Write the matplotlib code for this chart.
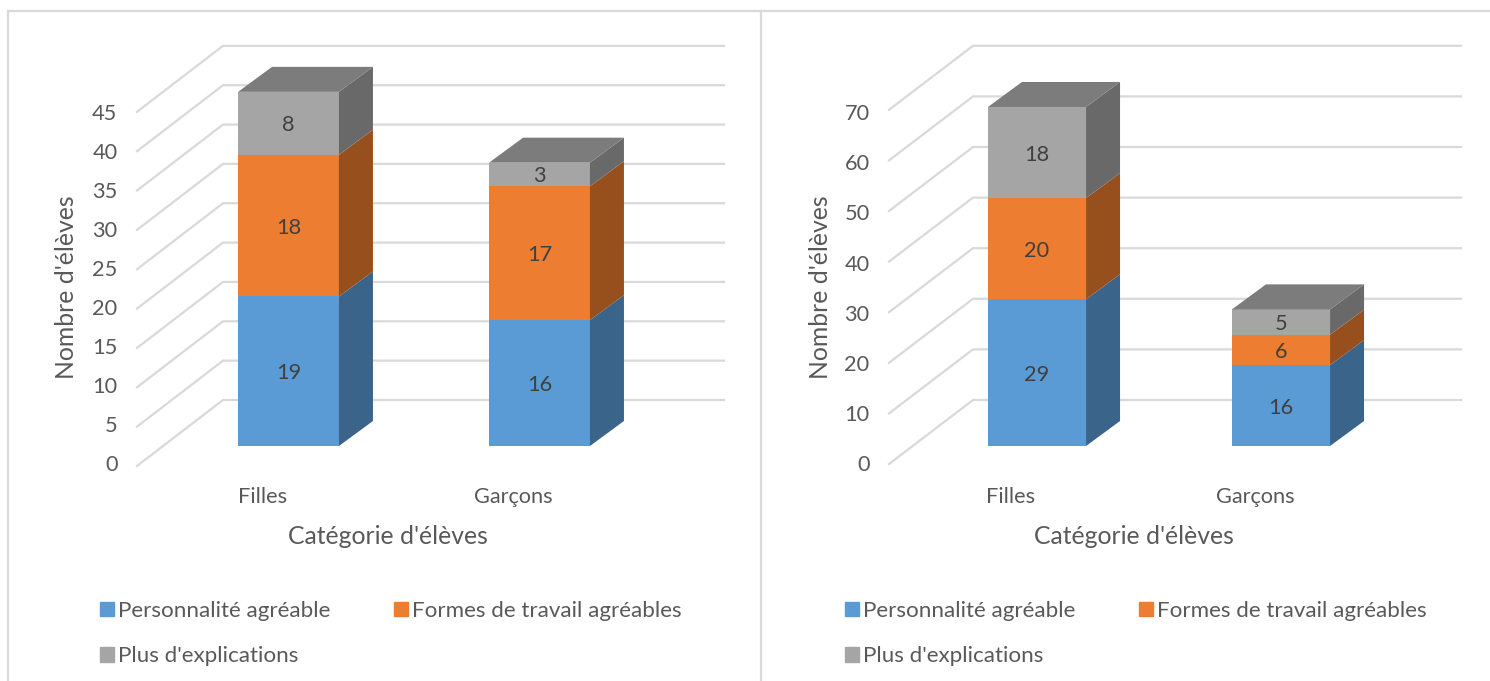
import matplotlib
matplotlib.use("Agg")
import matplotlib.pyplot as plt
from matplotlib.lines import Line2D
from matplotlib.patches import Patch
from matplotlib.transforms import ScaledTranslation

W = 1490
H = 681

categories = ["Filles", "Garçons"]
series_names = ["Personnalité agréable", "Formes de travail agréables", "Plus d'explications"]

left_personnalite = [19, 16]
left_formes = [18, 17]
left_explications = [8, 3]
left_ticks = [0, 5, 10, 15, 20, 25, 30, 35, 40, 45]

right_personnalite = [29, 16]
right_formes = [20, 6]
right_explications = [18, 5]
right_ticks = [0, 10, 20, 30, 40, 50, 60, 70]

front_colors = ["#5B9BD5", "#ED7D31", "#A5A5A5"]
side_colors = ["#3A6489", "#97501D", "#696969"]
top_color = "#7C7C7C"
grid_color = "#D9D9D9"
text_color = "#595959"
label_color = "#404040"

plt.rcParams["font.family"] = ["Lato", "DejaVu Sans"]

TICK_SIZE = 15.7
LEGEND_SIZE = 16.1
TITLE_SIZE = 17.8


def draw_chart(fig, box, first_center, step, px_per_unit, stacks, ticks, wall):
    # box is left, right, top, bottom in pixels, bar fronts stand on the bottom edge
    x0, x1, top, bottom = box
    ax = fig.add_axes([x0 / W, 1 - bottom / H, (x1 - x0) / W, (bottom - top) / H])
    ax.set_xlim((x0 - first_center) / step, (x1 - first_center) / step)
    ax.set_ylim(0, (bottom - top) / px_per_unit)
    ax.patch.set_visible(False)
    for s in ax.spines.values():
        s.set_visible(False)

    # side wall and back wall gridlines
    wall_dx, front_drop, back_rise = wall
    xmin, xmax = ax.get_xlim()
    for v in ticks:
        ax.plot([xmin, xmin + wall_dx / step, xmax],
                [v - front_drop / px_per_unit, v + back_rise / px_per_unit, v + back_rise / px_per_unit],
                color=grid_color, lw=1.6, clip_on=False, zorder=1, solid_joinstyle="miter")

    # stacked boxes, the depth is a fixed shift to the upper right
    bar_w = 0.402
    dx = 34 / step
    dy = 25 / px_per_unit
    for i in range(len(categories)):
        base = 0
        xr = i + bar_w / 2
        for k, values in enumerate(stacks):
            val = values[i]
            ax.bar(i, val, bar_w, bottom=base, color=front_colors[k], zorder=3)
            ax.fill([xr, xr + dx, xr + dx, xr],
                    [base, base + dy, base + val + dy, base + val],
                    color=side_colors[k], lw=0, zorder=3, clip_on=False)
            ax.text(i, base + val / 2, str(val), ha="center", va="center_baseline",
                    fontsize=TICK_SIZE, color=label_color, zorder=4)
            base += val
        xl = i - bar_w / 2
        ax.fill([xl, xr, xr + dx, xl + dx], [base, base, base + dy, base + dy],
                color=top_color, lw=0, zorder=3, clip_on=False)

    ax.set_xticks(range(len(categories)), categories)
    ax.set_yticks(ticks, [str(v) for v in ticks])
    ax.tick_params(length=0, colors=text_color, labelsize=TICK_SIZE)
    ax.tick_params(axis="y", pad=14)
    # tick labels follow the front edge of the wall, not the bar plane
    for lab in ax.get_xticklabels():
        lab.set_transform(lab.get_transform() + ScaledTranslation(-26 / 100, -36 / 100, fig.dpi_scale_trans))
    for lab, v in zip(ax.get_yticklabels(), ticks):
        shift = (17 + 3.5 * v / ticks[-1]) / 100
        lab.set_transform(lab.get_transform() + ScaledTranslation(0, -shift, fig.dpi_scale_trans))
    return ax


fig = plt.figure(figsize=(W / 100, H / 100), dpi=100, facecolor="white")

# panel frame
for xs, ys in [((8, W), (11, 11)), ((8, 8), (11, H)), ((761, 761), (11, H))]:
    fig.add_artist(Line2D([x / W for x in xs], [1 - y / H for y in ys], color=grid_color, lw=1.6))

draw_chart(fig, (137, 724, 30, 446), 288.5, 251, 7.87,
           [left_personnalite, left_formes, left_explications], left_ticks, (86, 20, 46))
draw_chart(fig, (889, 1461, 30, 446), 1037, 244, 5.06,
           [right_personnalite, right_formes, right_explications], right_ticks, (84, 18, 46))

# axis titles
fig.text(67 / W, 1 - 287 / H, "Nombre d'élèves", rotation=90, ha="center", va="center",
         fontsize=TITLE_SIZE, color=text_color)
fig.text(820 / W, 1 - 287 / H, "Nombre d'élèves", rotation=90, ha="center", va="center",
         fontsize=TITLE_SIZE, color=text_color)
fig.text(388 / W, 1 - 536 / H, "Catégorie d'élèves", ha="center", va="center",
         fontsize=TITLE_SIZE, color=text_color)
fig.text(1134 / W, 1 - 536 / H, "Catégorie d'élèves", ha="center", va="center",
         fontsize=TITLE_SIZE, color=text_color)

# legends, filled column by column so the third entry wraps under the first
order = [0, 2, 1]
handles = [Patch(color=front_colors[k], label=series_names[k]) for k in order]
for anchor in (100, 845):
    fig.legend(handles=handles, ncol=2, frameon=False, loc="upper left",
               bbox_to_anchor=(anchor / W, 1 - 601 / H), borderaxespad=0, borderpad=0,
               fontsize=LEGEND_SIZE, labelcolor=text_color, handlelength=0.62, handleheight=0.62,
               handletextpad=0.18, labelspacing=1.14, columnspacing=2.85)

fig.savefig("out.png", dpi=100)
